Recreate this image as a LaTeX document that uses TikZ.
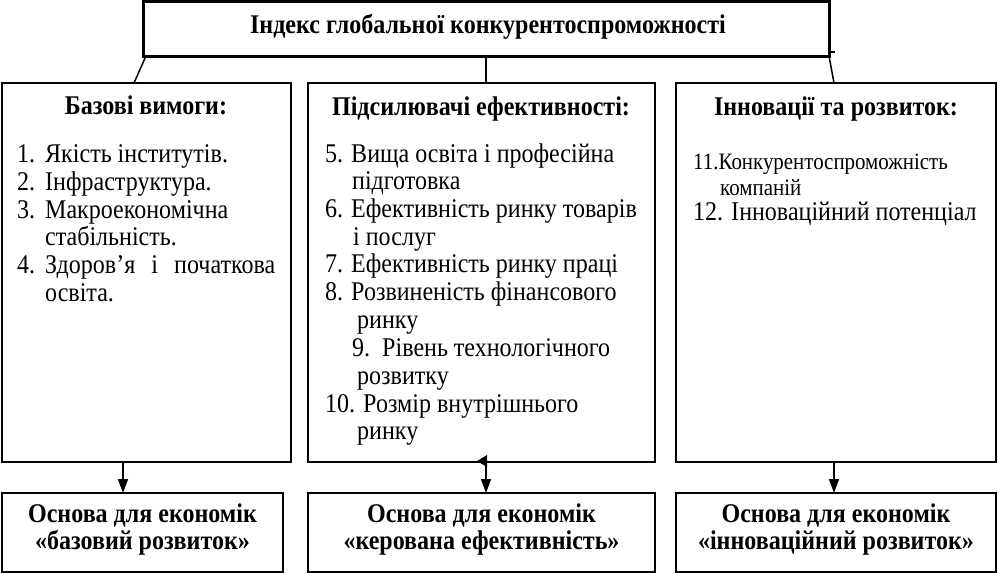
\documentclass[tikz,border=0pt]{standalone}
\usepackage{fontspec}
\setmainfont{Liberation Serif}[FakeStretch=0.89]
\usetikzlibrary{arrows.meta}
\begin{document}
\begin{tikzpicture}[x=1pt,y=-1pt,
  bx/.style={draw,line width=2pt,inner sep=0pt,outer sep=0pt},
  hd/.style={anchor=base,inner sep=0pt,font=\fontsize{27}{30}\selectfont\bfseries},
  tx/.style={anchor=base west,inner sep=0pt,font=\fontsize{27}{30}\selectfont},
  sm/.style={anchor=base west,inner sep=0pt,font=\fontsize{23.5}{26}\selectfont},
  ln/.style={line width=1.5pt},
  arr/.style={line width=1.5pt,-{Triangle[length=14pt,width=10pt]}}]
\useasboundingbox (0,0) rectangle (998,573);
% boxes
\node[bx,line width=3pt,minimum width=686pt,minimum height=55pt] (top) at (486,28.5) {};
\node[bx,minimum width=289pt,minimum height=379pt] (lb) at (146.5,272.5) {};
\node[bx,minimum width=347pt,minimum height=379pt] (mb) at (481.5,272.5) {};
\node[bx,minimum width=320pt,minimum height=379pt] (rb) at (836,272.5) {};
\node[bx,minimum width=281pt,minimum height=79pt] (lbb) at (142.5,532.5) {};
\node[bx,minimum width=347pt,minimum height=79pt] (mbb) at (481.5,532.5) {};
\node[bx,minimum width=320pt,minimum height=79pt] (rbb) at (836,532.5) {};
% title
\node[hd] (title) at (488,33) {Індекс глобальної конкурентоспроможності};
% left box
\node[hd] (lh) at (146,114) {Базові вимоги:};
\node[tx] (l1n) at (17,162) {1.};
\node[tx] (l1) at (45,162) {Якість інститутів.};
\node[tx] (l2n) at (17,190) {2.};
\node[tx] (l2) at (45,190) {Інфраструктура.};
\node[tx] (l3n) at (17,218) {3.};
\node[tx] (l3) at (45,218) {Макроекономічна};
\node[tx] (l3b) at (45,245) {стабільність.};
\node[tx] (l4n) at (17,273) {4.};
\node[tx] (l4) at (45,273) {\makebox[230pt][s]{Здоров’я і початкова}};
\node[tx] (l4b) at (45,301) {освіта.};
% middle box
\node[hd] (mh) at (481,115) {Підсилювачі ефективності:};
\node[tx] (m5) at (325,162) {5. Вища освіта і професійна};
\node[tx] (m5b) at (352,189) {підготовка};
\node[tx] (m6) at (325,217) {6. Ефективність ринку товарів};
\node[tx] (m6b) at (353,245) {і послуг};
\node[tx] (m7) at (325,272) {7. Ефективність ринку праці};
\node[tx] (m8) at (325,300) {8. Розвиненість фінансового};
\node[tx] (m8b) at (357,328) {ринку};
\node[tx] (m9) at (352,356) {9.\ \ Рівень технологічного};
\node[tx] (m9b) at (357,384) {розвитку};
\node[tx] (m10) at (325,412) {10. Розмір внутрішнього};
\node[tx] (m10b) at (357,439) {ринку};
% right box
\node[hd] (rh) at (836,115) {Інновації та розвиток:};
\node[sm] (r11) at (693,169) {11.Конкурентоспроможність};
\node[sm] (r11b) at (720,195) {компаній};
\node[tx] (r12) at (693,220) {12. Інноваційний потенціал};
% bottom texts
\node[hd] (lbt1) at (142.5,522) {Основа для економік};
\node[hd] (lbt2) at (142.5,549) {«базовий розвиток»};
\node[hd] (mbt1) at (481.5,522) {Основа для економік};
\node[hd] (mbt2) at (481.5,549) {«керована ефективність»};
\node[hd] (rbt1) at (836,522) {Основа для економік};
\node[hd] (rbt2) at (836,549) {«інноваційний розвиток»};
% connectors from the top box
\draw[ln] ([xshift=3pt]top.south west) -- ([xshift=-12.5pt]lb.north);
\draw[ln] (top.south) -- (top.south |- mb.north);
\draw[ln] (top.south east) -- ([xshift=-2pt]rb.north);
\draw[ln] ([yshift=4pt]top.south east) -- ++(6,0);
% arrows to the bottom boxes
\draw[arr] ([xshift=-23.5pt]lb.south) -- ([xshift=-23.5pt]lb.south |- lbb.north);
\draw[arr] ([xshift=4.5pt]mb.south) -- ([xshift=4.5pt]mb.south |- mbb.north);
\draw[arr] ([xshift=-2pt]rb.south) -- ([xshift=-2pt]rb.south |- rbb.north);
\fill (477,461) -- (487,455) -- (487,467) -- cycle;
\end{tikzpicture}
\end{document}
